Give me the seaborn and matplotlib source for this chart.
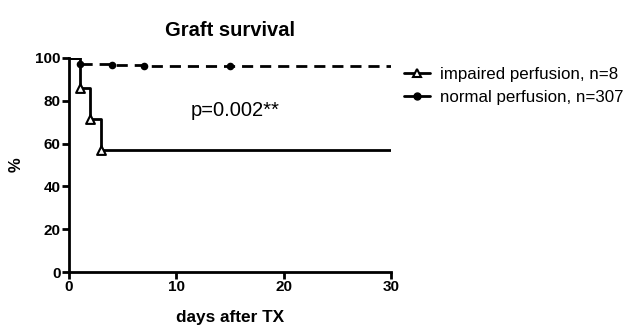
import pandas as pd
import matplotlib
matplotlib.use('Agg')
import matplotlib.pyplot as plt
import seaborn as sns
from matplotlib.lines import Line2D

# Kaplan-Meier steps
impaired_days = [0, 1, 2, 3, 30]
impaired_surv = [100, 85.7, 71.4, 57.1, 57.1]
impaired_mark_days = [1, 2, 3]
impaired_mark_surv = [85.7, 71.4, 57.1]

normal_days = [0, 1, 4, 7, 15, 30]
normal_surv = [100, 97.0, 96.7, 96.4, 96.1, 96.1]
normal_mark_days = [1, 4, 7, 15]
normal_mark_surv = [97.0, 96.7, 96.4, 96.1]

labels = ['impaired perfusion, n=8', 'normal perfusion, n=307']
x_ticks = [0, 10, 20, 30]
y_ticks = [0, 20, 40, 60, 80, 100]

sns.set_style("ticks")
plt.rcParams['font.family'] = ['Liberation Sans', 'DejaVu Sans']
plt.rcParams['text.color'] = 'black'
plt.rcParams['axes.labelcolor'] = 'black'
plt.rcParams['xtick.color'] = 'black'
plt.rcParams['ytick.color'] = 'black'
plt.rcParams['axes.edgecolor'] = 'black'

fig = plt.figure(figsize=(6.32, 3.25), dpi=100)
ax = fig.add_axes([0.109, 0.163, 0.510, 0.659])

sns.lineplot(x=normal_days, y=normal_surv, ax=ax, color='black', lw=2,
             drawstyle='steps-post', linestyle=(0, (4, 2.5)), estimator=None)
sns.lineplot(x=impaired_days, y=impaired_surv, ax=ax, color='black', lw=2,
             drawstyle='steps-post', estimator=None)
sns.scatterplot(x=normal_mark_days, y=normal_mark_surv, ax=ax, color='black',
                marker='o', s=30, linewidth=0, zorder=5)
sns.scatterplot(x=impaired_mark_days, y=impaired_mark_surv, ax=ax, facecolor='white',
                edgecolor='black', marker='^', s=40, linewidth=1.5, zorder=5)

ax.set_xlim(0, 30)
ax.set_ylim(0, 100)
ax.set_xticks(x_ticks)
ax.set_yticks(y_ticks)
for lab in ax.get_xticklabels() + ax.get_yticklabels():
    lab.set_fontweight('bold')
ax.tick_params(labelsize=11, width=2, length=5, direction='out', pad=1)
for s in ['left', 'bottom']:
    ax.spines[s].set_linewidth(2)
sns.despine(ax=ax)

ax.set_title('Graft survival', fontsize=14.5, fontweight='bold', pad=16)
ax.set_xlabel('days after TX', fontsize=12.4, fontweight='bold', labelpad=11)
ax.set_ylabel('%', fontsize=12, fontweight='bold', labelpad=8)
ax.text(15.5, 75.3, 'p=0.002**', fontsize=14.5, ha='center', va='center')

handles = [
    Line2D([], [], color='black', lw=2, marker='^', markersize=6,
           markerfacecolor='white', markeredgecolor='black', markeredgewidth=1.5),
    Line2D([], [], color='black', lw=2, marker='o', markersize=5),
]
ax.legend(handles, labels, loc='upper left', bbox_to_anchor=(1.02, 0.99), frameon=False,
          fontsize=12.2, handlelength=1.5, handletextpad=0.6, labelspacing=0.5, borderaxespad=0)

fig.savefig('out.png', dpi=100)
